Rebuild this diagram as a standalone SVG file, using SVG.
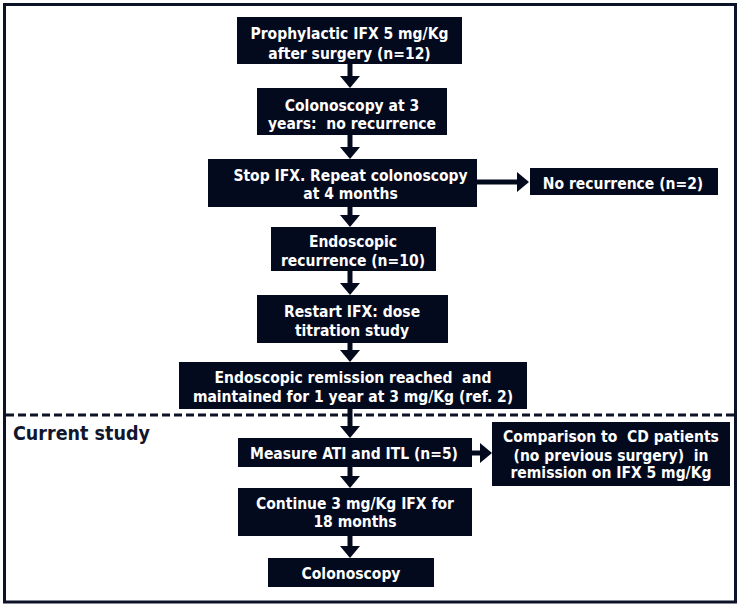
<svg xmlns="http://www.w3.org/2000/svg" width="740" height="607" viewBox="0 0 740 607">
<defs>
<style>
.box{fill:#040a1e;}
.t{font-family:"DejaVu Sans Condensed","DejaVu Sans",sans-serif;font-weight:bold;font-size:15.5px;fill:#ffffff;text-anchor:middle;white-space:pre;}
.conn{stroke:#040a1e;stroke-width:5;fill:none;}
.title{font-family:"DejaVu Sans Condensed","DejaVu Sans",sans-serif;font-weight:bold;font-size:19.5px;fill:#10162c;}
</style>
<marker id="ah" markerUnits="userSpaceOnUse" markerWidth="12" markerHeight="20" viewBox="0 0 12 20" refX="0" refY="10" orient="auto">
<path d="M0,0 L12,10 L0,20 Z" fill="#040a1e"/>
</marker>
</defs>
<rect width="740" height="607" fill="#ffffff"/>
<rect x="4.5" y="4.5" width="731" height="597.5" fill="none" stroke="#0d1326" stroke-width="3"/>
<line x1="6" y1="415" x2="734" y2="415" stroke="#0d1326" stroke-width="3" stroke-dasharray="8,4"/>
<text class="title" x="13" y="440">Current study</text>

<g id="connectors">
<line class="conn" x1="350" y1="64" x2="350" y2="76" marker-end="url(#ah)"/>
<line class="conn" x1="350" y1="135" x2="350" y2="147" marker-end="url(#ah)"/>
<line class="conn" x1="350" y1="207" x2="350" y2="215" marker-end="url(#ah)"/>
<line class="conn" x1="350" y1="271" x2="350" y2="283" marker-end="url(#ah)"/>
<line class="conn" x1="350" y1="343" x2="350" y2="350" marker-end="url(#ah)"/>
<line class="conn" x1="350" y1="409" x2="350" y2="426" marker-end="url(#ah)"/>
<line class="conn" x1="350" y1="466" x2="350" y2="476" marker-end="url(#ah)"/>
<line class="conn" x1="350" y1="536" x2="350" y2="546" marker-end="url(#ah)"/>
<line class="conn" x1="476" y1="182" x2="517" y2="182" marker-end="url(#ah)"/>
<line class="conn" x1="471" y1="453" x2="480" y2="453" marker-end="url(#ah)"/>
</g>

<g id="n1">
<rect class="box" x="237" y="17" width="225" height="47"/>
<text class="t" x="349.5" y="38.5">Prophylactic IFX 5 mg/Kg</text>
<text class="t" x="349.5" y="58.5">after surgery (n=12)</text>
</g>
<g id="n2">
<rect class="box" x="257" y="88" width="190" height="47"/>
<text class="t" x="352" y="110.5">Colonoscopy at 3</text>
<text class="t" x="352" y="128.5">years:  no recurrence</text>
</g>
<g id="n3">
<rect class="box" x="208" y="159" width="269" height="48"/>
<text class="t" x="350.5" y="180.5">Stop IFX. Repeat colonoscopy</text>
<text class="t" x="350.5" y="199">at 4 months</text>
</g>
<g id="n4">
<rect class="box" x="530" y="168" width="188" height="27"/>
<text class="t" x="623" y="189">No recurrence (n=2)</text>
</g>
<g id="n5">
<rect class="box" x="271" y="227" width="165" height="44"/>
<text class="t" x="353" y="247">Endoscopic</text>
<text class="t" x="353" y="266">recurrence (n=10)</text>
</g>
<g id="n6">
<rect class="box" x="257" y="295" width="191" height="48"/>
<text class="t" x="352" y="316.5">Restart IFX: dose</text>
<text class="t" x="352" y="335.5">titration study</text>
</g>
<g id="n7">
<rect class="box" x="179" y="362" width="348" height="47"/>
<text class="t" x="353" y="383">Endoscopic remission reached  and</text>
<text class="t" x="353" y="402">maintained for 1 year at 3 mg/Kg (ref. 2)</text>
</g>
<g id="n8">
<rect class="box" x="238" y="438" width="234" height="29"/>
<text class="t" x="354" y="459">Measure ATI and ITL (n=5)</text>
</g>
<g id="n9">
<rect class="box" x="492" y="422" width="238" height="64"/>
<text class="t" x="611" y="442">Comparison to  CD patients</text>
<text class="t" x="611" y="460.5">(no previous surgery)  in</text>
<text class="t" x="611" y="478">remission on IFX 5 mg/Kg</text>
</g>
<g id="n10">
<rect class="box" x="238" y="488" width="234" height="48"/>
<text class="t" x="355" y="509">Continue 3 mg/Kg IFX for</text>
<text class="t" x="355" y="526.5">18 months</text>
</g>
<g id="n11">
<rect class="box" x="268" y="558" width="166" height="29"/>
<text class="t" x="351" y="579">Colonoscopy</text>
</g>
</svg>
